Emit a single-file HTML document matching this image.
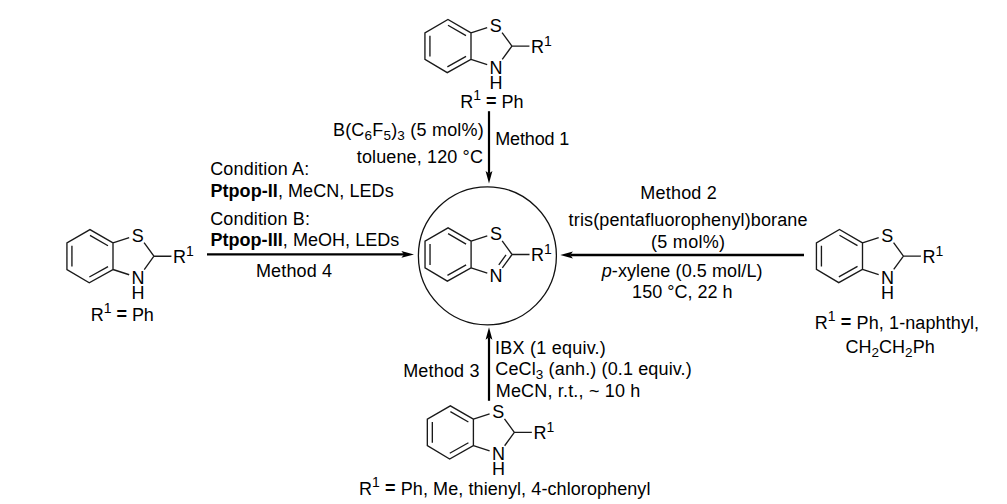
<!DOCTYPE html><html><head><meta charset="utf-8"><style>
html,body{margin:0;padding:0;background:#fff;}
svg{display:block;}
text{font-family:"Liberation Sans",sans-serif;fill:#000;}
</style></head><body>
<svg width="1007" height="504" viewBox="0 0 1007 504">
<rect width="1007" height="504" fill="#fff"/>
<defs>
<g id="rb"><path d="M0.00,-13.30L-23.04,-26.60L-46.07,-13.30L-46.07,13.30L-23.74,26.60L0.00,13.30Z M-23.02,-20.82L-5.01,-10.42 M-41.07,-10.40L-41.07,10.40 M-23.65,20.82L-4.97,10.36 M0.00,-13.30L16.19,-18.56 M0.00,13.30L16.19,18.56 M31.08,-13.56L40.93,0.00 M40.93,0.00L31.24,13.34 M40.93,0.00L58.43,0.00" fill="none" stroke="#1a1a1a" stroke-width="1.35" stroke-linejoin="miter"/>
<g font-size="18"><text x="24.8" y="-14.1" text-anchor="middle">S</text><text x="25" y="27.7" text-anchor="middle">N</text><text x="25" y="42.8" text-anchor="middle">H</text><text x="60" y="6.7">R<tspan font-size="14" baseline-shift="7">1</tspan></text></g></g>
<g id="pb"><path d="M0.00,-13.30L-23.04,-26.60L-46.07,-13.30L-46.07,13.30L-23.74,26.60L0.00,13.30Z M-23.02,-20.82L-5.01,-10.42 M-41.07,-10.40L-41.07,10.40 M-23.65,20.82L-4.97,10.36 M0.00,-13.30L16.19,-18.56 M0.00,13.30L16.19,18.56 M31.08,-13.56L40.93,0.00 M40.93,0.00L31.24,13.34 M40.93,0.00L58.43,0.00 M34.92,0.45L27.69,10.40" fill="none" stroke="#1a1a1a" stroke-width="1.35"/>
<g font-size="18"><text x="24.8" y="-14.1" text-anchor="middle">S</text><text x="25" y="27.7" text-anchor="middle">N</text><text x="60" y="6.7">R<tspan font-size="14" baseline-shift="7">1</tspan></text></g></g>
</defs>

<use href="#rb" transform="translate(471.0,46.1)"/>
<use href="#rb" transform="translate(113.0,256.2)"/>
<use href="#rb" transform="translate(862.5,256.1)"/>
<use href="#rb" transform="translate(473.4,432.4)"/>
<use href="#pb" transform="translate(471.1,254.5)"/>
<circle cx="487.4" cy="255.8" r="69.0" fill="none" stroke="#111" stroke-width="1.3"/>
<line x1="489" y1="111.2" x2="489.00" y2="173.60" stroke="#000" stroke-width="2.2"/><path d="M489.00,183.60 L485.60,171.00 L489.00,173.60 L492.40,171.00Z" fill="#000"/>
<line x1="207" y1="254.4" x2="404.00" y2="254.40" stroke="#000" stroke-width="2.4"/><path d="M414.00,254.40 L401.40,257.80 L404.00,254.40 L401.40,251.00Z" fill="#000"/>
<line x1="804" y1="255.0" x2="570.30" y2="255.00" stroke="#000" stroke-width="2.3"/><path d="M560.30,255.00 L572.90,251.60 L570.30,255.00 L572.90,258.40Z" fill="#000"/>
<line x1="489" y1="400.8" x2="489.00" y2="337.20" stroke="#000" stroke-width="2.2"/><path d="M489.00,327.20 L492.40,339.80 L489.00,337.20 L485.60,339.80Z" fill="#000"/>
<g font-size="18"><text x="460.19" y="107.6" textLength="63.37" lengthAdjust="spacing">R<tspan font-size="14" baseline-shift="8">1</tspan> <tspan font-weight="bold" baseline-shift="0.8">=</tspan> Ph</text><text x="332.91" y="135.7" textLength="150.85" lengthAdjust="spacing">B(C<tspan font-size="13.5" baseline-shift="-4">6</tspan>F<tspan font-size="13.5" baseline-shift="-4">5</tspan>)<tspan font-size="13.5" baseline-shift="-4">3</tspan> (5 mol%)</text><text x="356.79" y="162.5" textLength="126.11" lengthAdjust="spacing">toluene, 120 °C</text><text x="495.21" y="145" textLength="74.17" lengthAdjust="spacing">Method 1</text><text x="210.14" y="174.9" textLength="99.16" lengthAdjust="spacing">Condition A:</text><text x="210.43" y="196.7" textLength="183.22" lengthAdjust="spacing"><tspan font-weight="bold">Ptpop-II</tspan>, MeCN, LEDs</text><text x="210.14" y="224.9" textLength="99.81" lengthAdjust="spacing">Condition B:</text><text x="210.43" y="245.7" textLength="188.88" lengthAdjust="spacing"><tspan font-weight="bold">Ptpop-III</tspan>, MeOH, LEDs</text><text x="255.95" y="276.7" textLength="76.14" lengthAdjust="spacing">Method 4</text><text x="90.77" y="321.25" textLength="63.09" lengthAdjust="spacing">R<tspan font-size="14" baseline-shift="8">1</tspan> <tspan font-weight="bold" baseline-shift="0.8">=</tspan> Ph</text><text x="640.21" y="198.8" textLength="76.63" lengthAdjust="spacing">Method 2</text><text x="568.61" y="225.9" textLength="238.89" lengthAdjust="spacing">tris(pentafluorophenyl)borane</text><text x="651.00" y="247.5" textLength="74.00" lengthAdjust="spacing">(5 mol%)</text><text x="601.71" y="276.6" textLength="160.80" lengthAdjust="spacing"><tspan font-style="italic">p</tspan>-xylene (0.5 mol/L)</text><text x="632.11" y="297.6" textLength="100.47" lengthAdjust="spacing">150 °C, 22 h</text><text x="814.77" y="328.8" textLength="164.34" lengthAdjust="spacing">R<tspan font-size="14" baseline-shift="8">1</tspan> <tspan font-weight="bold" baseline-shift="0.8">=</tspan> Ph, 1-naphthyl,</text><text x="845.59" y="353.3" textLength="89.07" lengthAdjust="spacing">CH<tspan font-size="13.5" baseline-shift="-4">2</tspan>CH<tspan font-size="13.5" baseline-shift="-4">2</tspan>Ph</text><text x="403.21" y="376.9" textLength="76.24" lengthAdjust="spacing">Method 3</text><text x="495.00" y="353.8" textLength="110.80" lengthAdjust="spacing">IBX (1 equiv.)</text><text x="495.35" y="374.7" textLength="196.33" lengthAdjust="spacing">CeCl<tspan font-size="13.5" baseline-shift="-4">3</tspan> (anh.) (0.1 equiv.)</text><text x="495.77" y="397.0" textLength="144.55" lengthAdjust="spacing">MeCN, r.t., ~ 10 h</text><text x="359.00" y="494.9" textLength="291.43" lengthAdjust="spacing">R<tspan font-size="14" baseline-shift="8">1</tspan> <tspan font-weight="bold" baseline-shift="0.8">=</tspan> Ph, Me, thienyl, 4-chlorophenyl</text></g>
</svg></body></html>
